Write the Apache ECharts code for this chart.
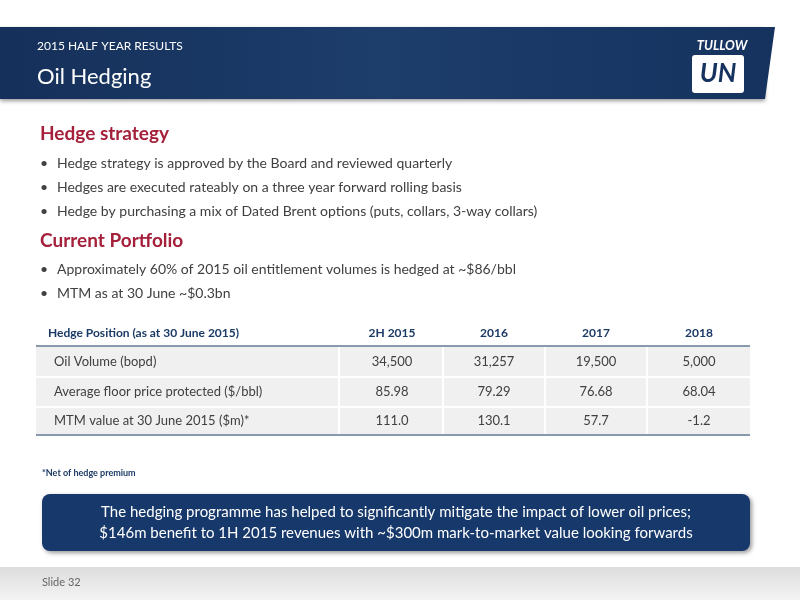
<!DOCTYPE html>
<html><head><meta charset="utf-8">
<script src="https://cdn.jsdelivr.net/npm/echarts@6/dist/echarts.min.js"></script>
<style>html,body{margin:0;padding:0;background:#fff}#c{width:800px;height:600px}</style>
</head><body><div id="c"></div>
<script>
const headerSub = "2015 HALF YEAR RESULTS";
const headerTitle = "Oil Hedging";
const section1 = "Hedge strategy";
const bullets1 = [
  "Hedge strategy is approved by the Board and reviewed quarterly",
  "Hedges are executed rateably on a three year forward rolling basis",
  "Hedge by purchasing a mix of Dated Brent options (puts, collars, 3-way collars)"
];
const section2 = "Current Portfolio";
const bullets2 = [
  "Approximately 60% of 2015 oil entitlement volumes is hedged at ~$86/bbl",
  "MTM as at 30 June ~$0.3bn"
];
const tableHeader = "Hedge Position (as at 30 June 2015)";
const periods = ["2H 2015", "2016", "2017", "2018"];
const rowLabels = ["Oil Volume (bopd)", "Average floor price protected ($/bbl)", "MTM value at 30 June 2015 ($m)*"];
const oilVolume = ["34,500", "31,257", "19,500", "5,000"];
const floorPrice = ["85.98", "79.29", "76.68", "68.04"];
const mtmValue = ["111.0", "130.1", "57.7", "-1.2"];
const footnote = "*Net of hedge premium";
const callout = ["The hedging programme has helped to significantly mitigate the impact of lower oil prices;",
                 "$146m benefit to 1H 2015 revenues with ~$300m mark-to-market value looking forwards"];
const slideLabel = "Slide 32";

const F = "Lato, 'Open Sans', sans-serif";
const navy = "#1b3a66", red = "#a5203a", grey = "#404040";
const g = [];
g.push({type:'rect', shape:{x:0,y:27,width:765,height:72}, style:{fill:{type:'linear',x:0,y:0,x2:1,y2:0,colorStops:[{offset:0,color:'#15305a'},{offset:0.5,color:'#1d3d6b'},{offset:1,color:'#16335f'}]}, shadowBlur:4, shadowColor:'rgba(0,0,0,0.4)', shadowOffsetY:2}});
g.push({type:'polygon', shape:{points:[[760,27],[775,27],[765,99],[740,99]]}, style:{fill:'#16335f'}});
g.push({type:'text', x:37, y:46, style:{text:headerSub, fill:'#fff', font:'12px '+F, verticalAlign:'middle'}});
g.push({type:'text', x:37, y:77, style:{text:headerTitle, fill:'#fff', font:'22px '+F, verticalAlign:'middle'}});
g.push({type:'text', x:722, y:46, style:{text:'TULLOW', fill:'#fff', font:'italic bold 13px '+F, align:'center', verticalAlign:'middle'}});
g.push({type:'rect', shape:{x:692,y:55,width:52,height:38,r:3}, style:{fill:'#fff'}});
g.push({type:'text', x:718, y:74, style:{text:'UN', fill:'#16335f', font:'italic bold 26px '+F, align:'center', verticalAlign:'middle'}});
g.push({type:'text', x:40, y:134, style:{text:section1, fill:red, font:'bold 19px '+F, verticalAlign:'middle'}});
bullets1.forEach((b,i)=>{
  g.push({type:'text', x:40, y:163+i*24, style:{text:'•', fill:grey, font:'14px '+F, verticalAlign:'middle'}});
  g.push({type:'text', x:57, y:163+i*24, style:{text:b, fill:grey, font:'14px '+F, verticalAlign:'middle'}});
});
g.push({type:'text', x:40, y:241, style:{text:section2, fill:red, font:'bold 19px '+F, verticalAlign:'middle'}});
bullets2.forEach((b,i)=>{
  g.push({type:'text', x:40, y:269+i*24, style:{text:'•', fill:grey, font:'14px '+F, verticalAlign:'middle'}});
  g.push({type:'text', x:57, y:269+i*24, style:{text:b, fill:grey, font:'14px '+F, verticalAlign:'middle'}});
});
const tx0=36, tx1=750, colX=[339,443,545,647], colC=[392,494,596,699];
const rows=[oilVolume,floorPrice,mtmValue], rowTop=[346,377,407], rowH=[31,30,28];
g.push({type:'text', x:48, y:333, style:{text:tableHeader, fill:navy, font:'bold 12px '+F, verticalAlign:'middle'}});
periods.forEach((p,i)=>g.push({type:'text', x:colC[i], y:333, style:{text:p, fill:navy, font:'bold 12px '+F, align:'center', verticalAlign:'middle'}}));
rows.forEach((r,k)=>{
  g.push({type:'rect', shape:{x:tx0,y:rowTop[k],width:tx1-tx0,height:rowH[k]}, style:{fill:'#f0f0f0'}});
  if(k>0) g.push({type:'line', shape:{x1:tx0,y1:rowTop[k],x2:tx1,y2:rowTop[k]}, style:{stroke:'#fff',lineWidth:2}});
  g.push({type:'text', x:54, y:rowTop[k]+rowH[k]/2, style:{text:rowLabels[k], fill:grey, font:'13px '+F, verticalAlign:'middle'}});
  r.forEach((v,i)=>g.push({type:'text', x:colC[i], y:rowTop[k]+rowH[k]/2, style:{text:v, fill:grey, font:'13px '+F, align:'center', verticalAlign:'middle'}}));
});
colX.forEach(x=>g.push({type:'line', shape:{x1:x,y1:346,x2:x,y2:435}, style:{stroke:'#fff',lineWidth:2}}));
g.push({type:'line', shape:{x1:tx0,y1:346,x2:tx1,y2:346}, style:{stroke:'#8a9aae',lineWidth:2}});
g.push({type:'line', shape:{x1:tx0,y1:435,x2:tx1,y2:435}, style:{stroke:'#8a9aae',lineWidth:2}});
g.push({type:'text', x:42, y:473, style:{text:footnote, fill:navy, font:'bold 9px '+F, verticalAlign:'middle'}});
g.push({type:'rect', shape:{x:42,y:494,width:708,height:57,r:8}, style:{fill:'#17386a', shadowBlur:4, shadowColor:'rgba(0,0,0,0.4)', shadowOffsetX:2, shadowOffsetY:2}});
callout.forEach((t,i)=>g.push({type:'text', x:396, y:512+i*21, style:{text:t, fill:'#fff', font:'15px '+F, align:'center', verticalAlign:'middle'}}));
g.push({type:'rect', shape:{x:0,y:567,width:800,height:33}, style:{fill:{type:'linear',x:0,y:0,x2:0,y2:1,colorStops:[{offset:0,color:'#dcdcdc'},{offset:1,color:'#f4f4f4'}]}}});
g.push({type:'text', x:42, y:582, style:{text:slideLabel, fill:'#666', font:'11px '+F, verticalAlign:'middle'}});

const chart = echarts.init(document.getElementById('c'));
chart.setOption({animation:false, graphic:g});
</script></body></html>
